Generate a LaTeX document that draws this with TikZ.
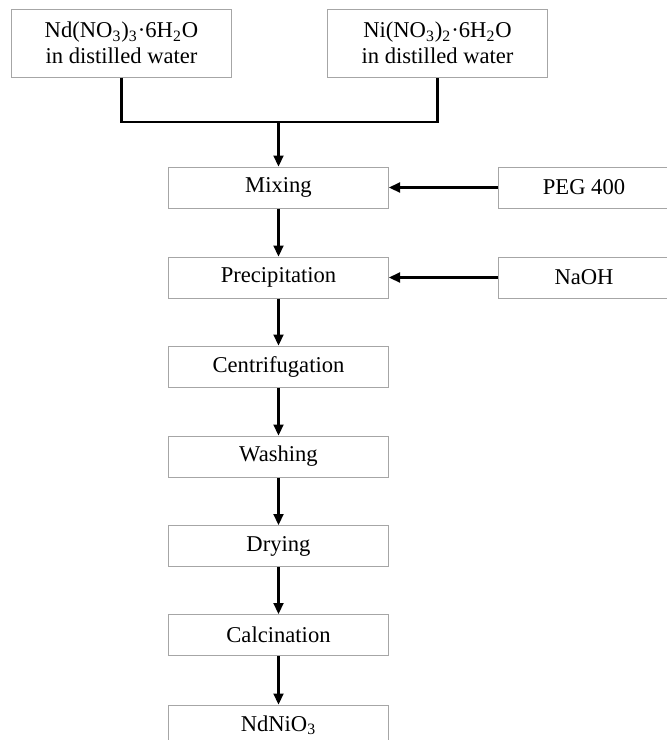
\documentclass[tikz,border=0pt]{standalone}
\usepackage{fontspec}
\setmainfont{Liberation Serif}
\usetikzlibrary{arrows.meta,positioning}

\begin{document}
\begin{tikzpicture}[
    x=0.5pt, y=-0.5pt,
    step box/.style={rectangle, draw=gray!70, line width=0.5pt, minimum width=110pt, minimum height=20.5pt, inner sep=0pt, text centered, font=\fontsize{11.3}{13}\selectfont},
    source/.style={step box, minimum height=34pt, align=center},
    additive/.style={step box, minimum width=86pt},
    arrow/.style={-{Triangle[length=5.5pt,width=5pt]}, line width=1.1pt},
    link/.style={line width=1.1pt}
]
\useasboundingbox (0,0) rectangle (667,740);

\node[source] (ndsol) at (121.5,43) {Nd(NO\textsubscript{3})\textsubscript{3}·6H\textsubscript{2}O\\in distilled water};
\node[source] (nisol) at (437.5,43) {Ni(NO\textsubscript{3})\textsubscript{2}·6H\textsubscript{2}O\\in distilled water};
\node[step box] (mix) at (278.5,187.5) {Mixing};
\node[step box] (prec) at (278.5,277.5) {Precipitation};
\node[step box] (cent) at (278.5,366.5) {Centrifugation};
\node[step box] (wash) at (278.5,456.5) {Washing};
\node[step box] (dry) at (278.5,546) {Drying};
\node[step box] (calc) at (278.5,635) {Calcination};
\node[step box] (prod) at (278.5,725.5) {NdNiO\textsubscript{3}};
\node[additive] (peg) at (584,187.5) {PEG 400};
\node[additive] (naoh) at (584,277.5) {NaOH};
\coordinate (join) at (278.5,122);

\draw[link] (ndsol.south) |- (join) -| (nisol.south);
\draw[arrow] (join) -- (mix);
\draw[arrow] (peg) -- (mix);
\draw[arrow] (naoh) -- (prec);
\draw[arrow] (mix) -- (prec);
\draw[arrow] (prec) -- (cent);
\draw[arrow] (cent) -- (wash);
\draw[arrow] (wash) -- (dry);
\draw[arrow] (dry) -- (calc);
\draw[arrow] (calc) -- (prod);

\end{tikzpicture}
\end{document}
